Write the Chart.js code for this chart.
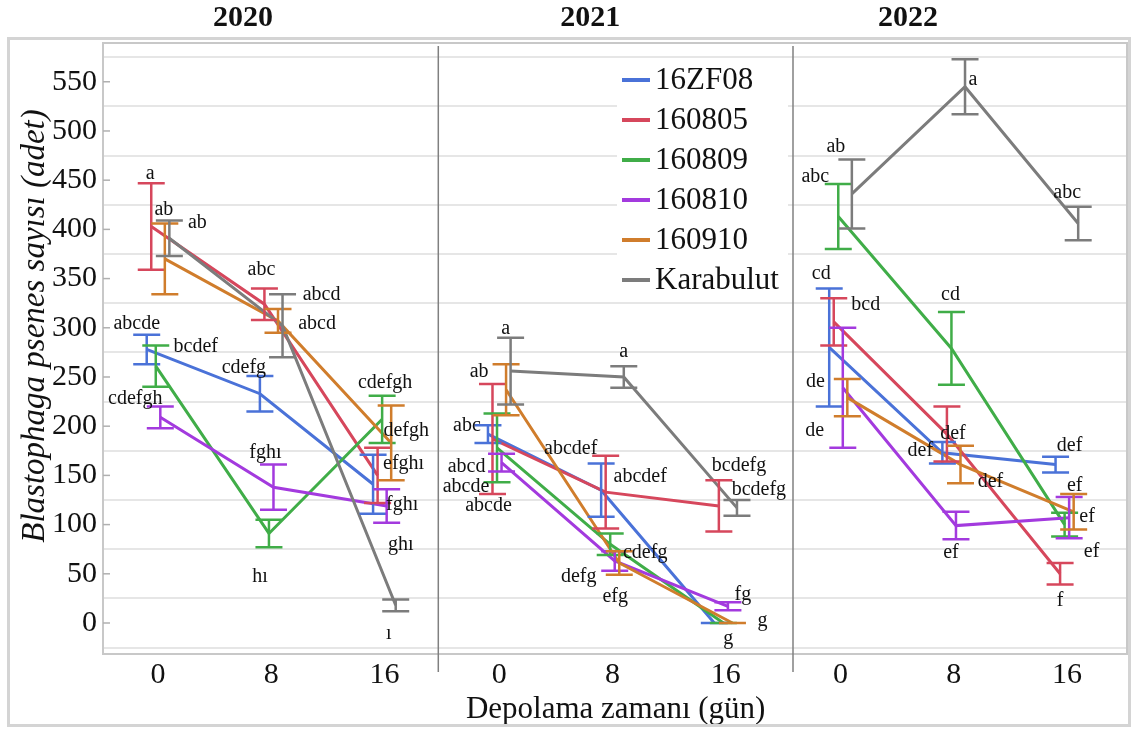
<!DOCTYPE html>
<html>
<head>
<meta charset="utf-8">
<script src="https://cdn.jsdelivr.net/npm/chart.js@4.4.0/dist/chart.umd.min.js"></script>
<style>
  html, body { margin: 0; padding: 0; background: #fff; }
  canvas { display: block; }
</style>
</head>
<body>
<canvas id="chart" width="1133" height="731"></canvas>
<script>
const years = ['2020', '2021', '2022'];
const days = [0, 8, 16];
const series = ['16ZF08', '160805', '160809', '160810', '160910', 'Karabulut'];
const colors = ['#4a72d8', '#d6475c', '#40ad48', '#a33ade', '#d07d2c', '#7c7c7c'];

// one row per series (same order as `series`), one value per storage day
const mean2020 = [[278, 233, 141], [403, 324, 150], [261, 91, 207], [209, 138, 119], [370, 307, 183], [391, 302, 18]];
const se2020 = [[15, 18, 30], [44, 16, 28], [21, 14, 24], [11, 23, 17], [36, 12, 38], [18, 32, 6]];
const mean2021 = [[192, 135, 0], [187, 133, 119], [178, 80, 0], [163, 63, 17], [237, 61, 0], [256, 250, 117]];
const se2021 = [[9, 27, 0], [56, 37, 26], [35, 11, 0], [9, 10, 4], [26, 12, 0], [34, 11, 8]];
const mean2022 = [[280, 173, 161], [306, 192, 50], [413, 279, 100], [239, 99, 107], [229, 161, 113], [436, 545, 406]];
const se2022 = [[60, 11, 8], [24, 28, 11], [33, 37, 12], [61, 14, 21], [19, 19, 18], [35, 28, 17]];

// significance letters
const letters2020 = [['abcde', 'cdefg', 'fghı'], ['a', 'abc', 'efghı'], ['bcdef', 'hı', 'cdefgh'],
                     ['cdefgh', 'fghı', 'ghı'], ['ab', 'abcd', 'defgh'], ['ab', 'abcd', 'ı']];
const letters2021 = [['abc', 'abcdef', 'g'], ['abcde', 'abcdef', 'bcdefg'], ['abcde', 'cdefg', ''],
                     ['abcd', 'defg', 'fg'], ['ab', 'efg', 'g'], ['a', 'a', 'bcdefg']];
const letters2022 = [['cd', 'def', 'def'], ['bcd', 'def', 'f'], ['abc', 'cd', 'ef'],
                     ['de', 'ef', 'ef'], ['de', 'def', 'ef'], ['ab', 'a', 'abc']];

// label placement (px from the point), kept apart from the data
const off2020 = [[[-10, -26], [-16, -26], [29, 20]], [[-1, -53], [-3, -34], [26, -12]], [[40, -19], [-9, 43], [3, -37]],
                 [[-25, -19], [-8, -34], [14, 39]], [[-1, -49], [39, 3], [15, -12]], [[28, -15], [39, -31], [-7, 28]]];
const off2021 = [[[-21, -8], [39, -13], [14, 16]], [[-4, 67], [-35, -43], [40, -16]], [[-31, 39], [35, 8], [0, 0]],
                 [[-35, 4], [-36, 16], [15, -12]], [[-27, -18], [-4, 34], [30, -2]], [[-5, -42], [0, -25], [2, -42]]];
const off2022 = [[[-8, -74], [-22, -2], [14, -19]], [[32, -17], [6, 0], [0, 27]], [[-23, -40], [-1, -54], [27, 27]],
                 [[-28, 43], [-5, 27], [18, -1]], [[-32, -16], [30, 17], [1, -26]], [[-16, -47], [8, -7], [-11, -31]]];

const dodge = [-0.8, -0.48, -0.16, 0.16, 0.48, 0.8];
const serif = "'Liberation Serif', 'Times New Roman', serif";

const yearSets = [
  { mean: mean2020, se: se2020, letters: letters2020, offs: off2020 },
  { mean: mean2021, se: se2021, letters: letters2021, offs: off2021 },
  { mean: mean2022, se: se2022, letters: letters2022, offs: off2022 }
];

const datasets = [];
yearSets.forEach((ys, yi) => {
  series.forEach((name, s) => {
    datasets.push({
      label: name,
      xAxisID: 'x' + years[yi],
      yAxisID: 'y',
      data: days.map((d, i) => ({ x: d + dodge[s], y: ys.mean[s][i] })),
      se: ys.se[s],
      letters: ys.letters[s],
      offs: ys.offs[s],
      borderColor: colors[s],
      borderWidth: 3,
      pointRadius: 0,
      tension: 0,
      fill: false,
      order: 5 - s
    });
  });
});

function xAxis(min, max, weight, withTitle) {
  return {
    type: 'linear',
    position: 'bottom',
    stack: 'panels',
    stackWeight: weight,
    min: min,
    max: max,
    afterBuildTicks: sc => { sc.ticks = days.map(v => ({ value: v })); },
    afterFit: sc => { sc.height = 77; },
    grid: { display: false },
    border: { display: true, color: '#c8c8c8', width: 2 },
    ticks: { color: '#111', font: { family: serif, size: 30 }, padding: -5, maxRotation: 0, autoSkip: false },
    title: {
      display: withTitle,
      text: 'Depolama zamanı (gün)',
      color: '#111',
      font: { family: serif, size: 31 },
      padding: { top: 0, bottom: 3 }
    }
  };
}

const decor = {
  id: 'decor',
  afterDatasetsDraw(chart) {
    const ctx = chart.ctx;
    const ca = chart.chartArea;
    const yS = chart.scales.y;
    ctx.save();

    // error bars and letters
    chart.data.datasets.forEach(ds => {
      const xS = chart.scales[ds.xAxisID];
      ctx.strokeStyle = ds.borderColor;
      ctx.lineWidth = 2.5;
      ds.data.forEach((p, i) => {
        const px = xS.getPixelForValue(p.x);
        const top = yS.getPixelForValue(p.y + ds.se[i]);
        const bot = yS.getPixelForValue(p.y - ds.se[i]);
        ctx.beginPath();
        ctx.moveTo(px, top); ctx.lineTo(px, bot);
        ctx.moveTo(px - 13.5, top); ctx.lineTo(px + 13.5, top);
        ctx.moveTo(px - 13.5, bot); ctx.lineTo(px + 13.5, bot);
        ctx.stroke();
      });
    });
    ctx.fillStyle = '#111';
    ctx.font = '20px ' + serif;
    ctx.textAlign = 'center';
    ctx.textBaseline = 'middle';
    chart.data.datasets.forEach(ds => {
      const xS = chart.scales[ds.xAxisID];
      ds.data.forEach((p, i) => {
        if (!ds.letters[i]) return;
        const px = xS.getPixelForValue(p.x) + ds.offs[i][0];
        const py = yS.getPixelForValue(p.y) + ds.offs[i][1];
        ctx.fillText(ds.letters[i], px, py);
      });
    });

    // legend inside the 2021 panel
    const mid = chart.scales.x2021;
    const lx = mid.right - 171;
    const ly = ca.top + 37;
    ctx.fillStyle = '#fff';
    ctx.fillRect(lx - 5, ca.top + 18, 171, 240);
    ctx.font = '31px ' + serif;
    ctx.textAlign = 'left';
    series.forEach((name, s) => {
      const yy = ly + s * 40;
      ctx.strokeStyle = colors[s];
      ctx.lineWidth = 4;
      ctx.beginPath();
      ctx.moveTo(lx, yy); ctx.lineTo(lx + 28, yy);
      ctx.stroke();
      ctx.fillStyle = '#111';
      ctx.fillText(name, lx + 33, yy + 1);
    });

    // plot frame, inner tick marks and panel separators
    ctx.strokeStyle = '#c8c8c8';
    ctx.lineWidth = 2;
    ctx.beginPath();
    ctx.moveTo(ca.left, ca.top); ctx.lineTo(ca.right, ca.top); ctx.lineTo(ca.right, ca.bottom);
    ctx.stroke();
    ctx.strokeStyle = '#b0b0b0';
    ctx.lineWidth = 1.5;
    for (let v = 0; v <= 550; v += 50) {
      const yy = yS.getPixelForValue(v);
      ctx.beginPath();
      ctx.moveTo(ca.left, yy); ctx.lineTo(ca.left + 7, yy);
      ctx.stroke();
    }
    ctx.strokeStyle = '#808080';
    ctx.lineWidth = 1.5;
    ['x2021', 'x2022'].forEach(id => {
      const x = chart.scales[id].left;
      ctx.beginPath();
      ctx.moveTo(x, ca.top + 3); ctx.lineTo(x, ca.bottom + 18);
      ctx.stroke();
    });
    ctx.restore();
  },
  afterDraw(chart) {
    const ctx = chart.ctx;
    ctx.save();
    ctx.fillStyle = '#111';
    ctx.textAlign = 'center';
    ctx.textBaseline = 'middle';
    ctx.font = 'bold 30px ' + serif;
    const yearShift = [140, 152, 115];
    years.forEach((yr, i) => {
      ctx.fillText(yr, chart.scales['x' + yr].left + yearShift[i], 18);
    });
    ctx.translate(35, 326);
    ctx.rotate(-Math.PI / 2);
    ctx.font = 'italic 33px ' + serif;
    ctx.fillText('Blastophaga psenes sayısı (adet)', 0, 0);
    ctx.restore();

    ctx.save();
    ctx.strokeStyle = '#d4d4d4';
    ctx.lineWidth = 3;
    ctx.strokeRect(8.5, 38.5, 1121, 687);
    ctx.restore();
  }
};

new Chart(document.getElementById('chart'), {
  type: 'line',
  data: { datasets: datasets },
  options: {
    responsive: false,
    animation: false,
    devicePixelRatio: 1,
    layout: { padding: { left: 8, top: 43, right: 6, bottom: 0 } },
    plugins: { legend: { display: false }, tooltip: { enabled: false } },
    scales: {
      x2020: xAxis(-3.89, 19.81, 335.3, false),
      x2021: xAxis(-4.31, 20.76, 354.7, true),
      x2022: xAxis(-3.36, 20.25, 334, false),
      y: {
        position: 'left',
        min: -31.5,
        max: 589.4,
        afterBuildTicks: sc => {
          const t = [];
          for (let v = -25; v <= 575; v += 25) t.push({ value: v });
          sc.ticks = t;
        },
        afterFit: sc => { sc.width = 95; },
        grid: {
          drawTicks: false,
          lineWidth: 2,
          color: c => (c.tick && c.tick.value % 50 !== 0) ? '#e6e6e6' : 'rgba(0,0,0,0)'
        },
        border: { display: true, color: '#c8c8c8', width: 2 },
        ticks: {
          color: '#111',
          font: { family: serif, size: 30 },
          padding: 6,
          autoSkip: false,
          callback: v => (v % 50 === 0 ? String(v) : '')
        }
      }
    }
  },
  plugins: [decor]
});
</script>
</body>
</html>
